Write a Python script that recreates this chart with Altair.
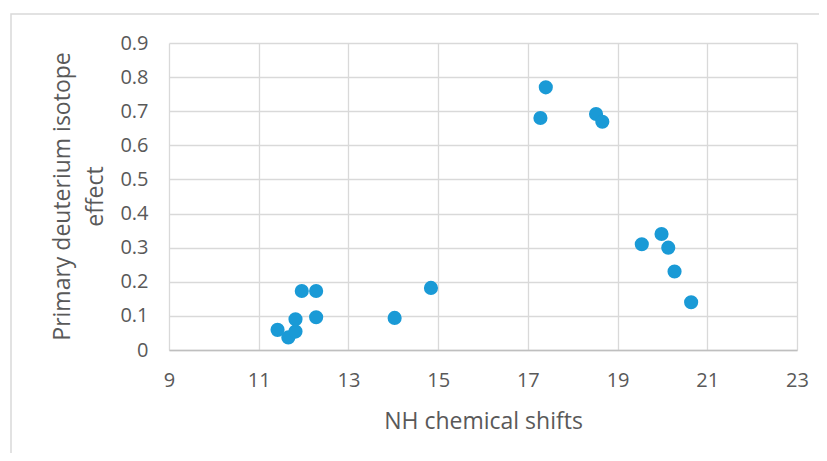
import altair as alt
import pandas as pd

nh_shift = [11.42, 11.66, 11.82, 11.82, 11.96, 12.28, 12.28, 14.03, 14.84,
            17.28, 17.40, 18.52, 18.66, 19.54, 19.98, 20.13, 20.27, 20.64]
isotope_effect = [0.059, 0.037, 0.054, 0.090, 0.173, 0.173, 0.096, 0.094, 0.182,
                  0.680, 0.770, 0.692, 0.669, 0.310, 0.340, 0.300, 0.230, 0.140]
x_ticks = [9, 11, 13, 15, 17, 19, 21, 23]
y_ticks = [0, 0.1, 0.2, 0.3, 0.4, 0.5, 0.6, 0.7, 0.8, 0.9]

df = pd.DataFrame({"nh": nh_shift, "effect": isotope_effect})

FONT = "Open Sans"
TXT = "#595959"

points = alt.Chart(df).mark_circle(size=200, color="#1a9ad6", opacity=1).encode(
    x=alt.X("nh:Q",
            scale=alt.Scale(domain=[9, 23], nice=False, zero=False),
            axis=alt.Axis(values=x_ticks, title="NH chemical shifts", ticks=False,
                          domainColor="#bfbfbf", domainWidth=1.5,
                          gridColor="#d9d9d9", gridWidth=1.3,
                          labelFont=FONT, labelFontSize=20, labelColor=TXT,
                          labelPadding=20, labelFlush=False,
                          titleFont=FONT, titleFontSize=23, titleColor=TXT,
                          titleFontWeight="normal", titleY=78,
                          titleBaseline="alphabetic")),
    y=alt.Y("effect:Q",
            scale=alt.Scale(domain=[0, 0.9], nice=False),
            axis=alt.Axis(values=y_ticks, format=".1~f",
                          title=["Primary deuterium isotope", "effect"],
                          ticks=False, domain=False,
                          gridColor="#d9d9d9", gridWidth=1.3,
                          labelFont=FONT, labelFontSize=20, labelColor=TXT,
                          labelPadding=21,
                          titleFont=FONT, titleFontSize=23, titleColor=TXT,
                          titleFontWeight="normal", titleAngle=-90,
                          titleX=-107, titleY=153, titleAlign="center",
                          titleBaseline="middle", titleLineHeight=33)),
)

frame = alt.Chart(pd.DataFrame({"a": [0]})).mark_rect(
    fill="transparent", stroke="#d9d9d9", strokeWidth=1.5
).encode(x=alt.value(-158), x2=alt.value(720), y=alt.value(-29), y2=alt.value(460))

chart = alt.layer(frame, points).properties(
    width=628, height=307,
    autosize=alt.AutoSizeParams(type="none"),
    padding={"left": 161, "top": 35, "right": 22, "bottom": 103},
    background="white",
).configure_view(stroke=None)

chart.save("out.html", embed_options={"renderer": "svg", "actions": False})
